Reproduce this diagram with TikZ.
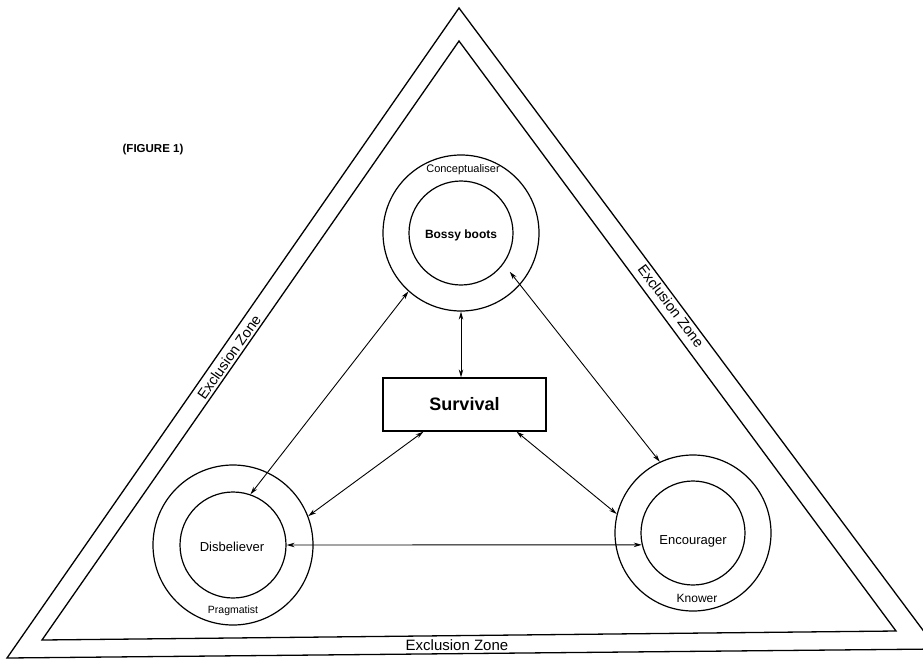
\documentclass[tikz,border=0pt]{standalone}
\usepackage{fontspec}
\setmainfont{Liberation Sans}
\usetikzlibrary{arrows.meta,calc}
\begin{document}
\begin{tikzpicture}[x=1pt,y=-1pt,
  tri/.style={line width=1.3pt, line join=miter},
  ring/.style={draw, circle, line width=1.2pt, inner sep=0pt},
  dbl/.style={line width=0.9pt, {Stealth[length=8pt,width=4.5pt]}-{Stealth[length=8pt,width=4.5pt]}},
  lbl/.style={font=\fontsize{13}{13}\selectfont, inner sep=0pt},
  small/.style={font=\fontsize{11}{11}\selectfont, inner sep=0pt},
  zone/.style={font=\fontsize{14.5}{14.5}\selectfont, inner sep=0pt},
]
\useasboundingbox (0,0) rectangle (923,659);
% triangles
\draw[tri] (459,8) -- (937,649) -- (7,658) -- cycle;
\draw[tri] (459,41) -- (896,631) -- (42,640) -- cycle;
% zone labels
\node[zone, rotate=55] (zl) at (229,357) {Exclusion Zone};
\node[zone, rotate=-53] (zr) at (671,306) {Exclusion Zone};
\node[zone, font=\fontsize{15}{15}\selectfont] (zb) at (457,645) {Exclusion Zone};
\node[font=\bfseries\fontsize{11.5}{11.5}\selectfont, inner sep=0pt] (fig) at (153,150) {(FIGURE 1)};
% circles
\node[ring, minimum size=156pt] (tO) at (461,233) {};
\node[ring, minimum size=104pt] (tI) at (461,233) {};
\node[ring, minimum size=160pt] (dO) at (233,545) {};
\node[ring, minimum size=106pt] (dI) at (233,545) {};
\node[ring, minimum size=156pt] (eO) at (693,533) {};
\node[ring, minimum size=104pt] (eI) at (693,533) {};
% labels
\node[small] (tl) at (463,170) {Conceptualiser};
\node[lbl, font=\bfseries\fontsize{12}{12}\selectfont] (tt) at (461,235) {Bossy boots};
\node[lbl] (dt) at (232,547) {Disbeliever};
\node[small, font=\fontsize{10.5}{10.5}\selectfont] (dl) at (233,611) {Pragmatist};
\node[lbl] (et) at (693,541) {Encourager};
\node[small, font=\fontsize{12}{12}\selectfont] (el) at (697,598) {Knower};
% survival
\node[draw, line width=1.2pt, minimum width=163pt, minimum height=53pt, inner sep=0pt,
  font=\bfseries\fontsize{18}{18}\selectfont] (surv) at (464.5,404.5) {Survival};
% connectors
\draw[dbl] (tO.south) -- (tO.south |- surv.north);
\draw[dbl] (tO.228) -- (dI.71);
\draw[dbl, shorten <=10pt] (tI.-36) -- (eO.115);
\draw[dbl] ([xshift=-41pt]surv.south) -- (dO.21);
\draw[dbl] ([xshift=52pt]surv.south) -- (eO.166);
\draw[dbl] (dI.0) -- (eI.193);
\end{tikzpicture}
\end{document}
